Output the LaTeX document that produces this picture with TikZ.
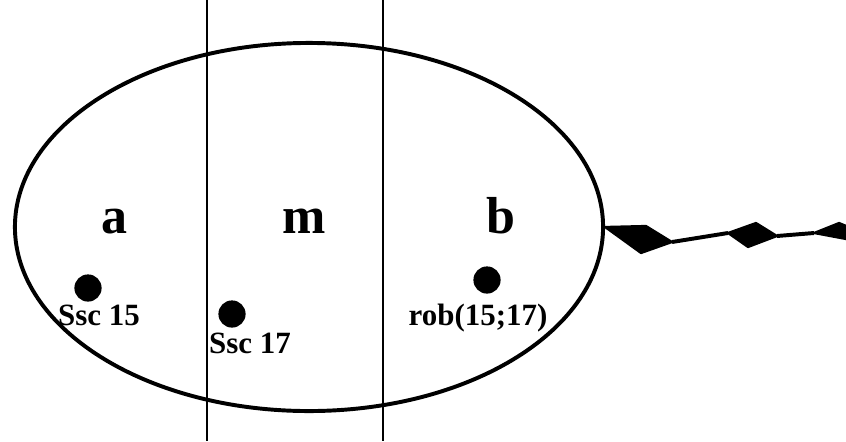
\documentclass[tikz,border=0pt]{standalone}
\usepackage{fontspec}
\setmainfont{Liberation Serif}
\usetikzlibrary{positioning,shapes.geometric}

\begin{document}
\begin{tikzpicture}[x=0.025cm,y=-0.025cm,
  region/.style={font=\fontsize{37}{40}\selectfont\bfseries,anchor=base},
  site/.style={circle,fill=black,inner sep=0pt,minimum size=0.68cm},
  tag/.style={font=\fontsize{22}{24}\selectfont\bfseries,anchor=base},
  cut/.style={line width=1.2pt},
  wire/.style={line width=2.8pt,line join=miter},
  flag/.style={fill=black,draw=black,line width=1.6pt,line join=round}
]
\clip (0,0) rectangle (846,441);
\node[draw,ellipse,line width=2.8pt,inner sep=0pt,minimum width=14.7cm,minimum height=9.2cm] (cell) at (309,227) {};

% section lines
\coordinate (c1top) at (207,0);
\coordinate (c1bot) at (207,441);
\coordinate (c2top) at (383,0);
\coordinate (c2bot) at (383,441);
\draw[cut] (c1top) -- (c1bot);
\draw[cut] (c2top) -- (c2bot);

% regions
\node[region] (ra) at (115,233) {a};
\node[region] (rm) at (304,233) {m};
\node[region] (rb) at (501,233) {b};

% sites
\node[site] (s15) at (88,288) {};
\node[site] (s17) at (232,314) {};
\node[site] (rob) at (487,280) {};
\node[tag] (t15) at (99,325) {Ssc 15};
\node[tag] (t17) at (250,353) {Ssc 17};
\node[tag] (trob) at (478,325) {rob(15;17)};

% tail
\coordinate (z0) at (cell.east);
\coordinate (z1) at (672,242);
\coordinate (z2) at (728,233);
\coordinate (z3) at (777,236);
\coordinate (z4) at (814,233);
\fill[flag] (z0) -- (646,226) -- (z1) -- (641,253) -- cycle;
\draw[wire] (z1) -- (z2);
\fill[flag] (z2) -- (756,223) -- (z3) -- (748,247) -- cycle;
\draw[wire] (z3) -- (z4);
\fill[flag] (z4) -- (839,223) -- (866,234) -- (846,239) -- cycle;
\end{tikzpicture}
\end{document}
